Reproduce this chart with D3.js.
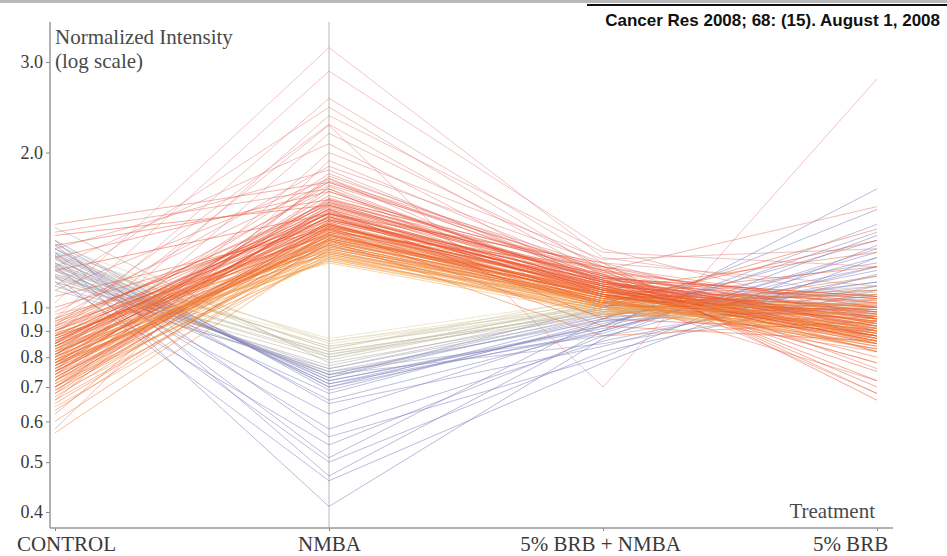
<!DOCTYPE html>
<html><head><meta charset="utf-8">
<script src="https://cdn.jsdelivr.net/npm/d3@7"></script>
<style>body{margin:0;background:#fff;}svg{display:block;}</style>
</head><body>
<svg id="chart" width="947" height="556"></svg>
<script>
const categories = ["CONTROL", "NMBA", "5% BRB + NMBA", "5% BRB"];
const yTicks = [0.4, 0.5, 0.6, 0.7, 0.8, 0.9, 1.0, 2.0, 3.0];
const header = "Cancer Res 2008; 68: (15). August 1, 2008";
const yTitle = ["Normalized Intensity", "(log scale)"];
const xTitle = "Treatment";

// each profile: [CONTROL, NMBA, 5% BRB + NMBA, 5% BRB]
const upHigh = [
  [1.02,3.20,1.25,1.05],[0.95,2.88,1.30,0.95],[0.88,2.55,1.22,1.10],[1.10,2.45,1.18,0.90],
  [0.80,2.36,1.28,1.20],[0.85,2.26,0.70,2.78],[0.92,2.27,1.15,0.85],[0.75,2.18,1.20,1.00],
  [1.20,2.08,1.10,0.78],[0.68,2.00,1.24,1.30],[1.30,1.85,1.12,0.95],[0.72,1.78,1.05,0.72],
  [0.98,1.75,1.18,1.57],[0.62,1.72,1.08,0.88],[1.40,1.70,1.00,0.82],[0.82,1.82,1.14,0.93],
  [0.74,1.76,1.20,0.87],[0.90,1.70,1.10,1.00],[0.66,1.80,1.17,0.82],[0.95,1.88,1.22,0.90],
  [0.78,1.68,1.11,0.96],[0.85,1.73,1.19,0.76],[1.08,1.78,1.13,0.88],[0.58,1.93,1.16,0.68]
];
const upCore = [
  [0.82,1.45,1.08,0.95],[0.76,1.38,1.05,0.90],[0.88,1.52,1.12,0.98],[0.72,1.33,1.02,0.88],
  [0.79,1.60,1.10,1.02],[0.85,1.41,1.06,0.86],[0.70,1.29,1.00,0.92],[0.91,1.48,1.14,1.05],
  [0.74,1.36,1.03,0.84],[0.83,1.55,1.09,0.97],[0.78,1.27,0.99,0.93],[0.87,1.43,1.11,0.89],
  [0.69,1.31,1.04,0.83],[0.81,1.50,1.07,1.00],[0.75,1.39,1.02,0.95],[0.93,1.58,1.15,0.91],
  [0.77,1.34,1.06,0.87],[0.84,1.46,1.01,0.99],[0.71,1.25,0.98,0.94],[0.80,1.62,1.13,1.04],
  [0.86,1.37,1.08,0.85],[0.73,1.44,1.05,0.90],[0.89,1.30,1.03,0.96],[0.78,1.53,1.12,0.88],
  [0.67,1.40,1.07,0.92],[0.82,1.28,1.00,1.01],[0.95,1.49,1.10,0.86],[0.76,1.35,1.04,0.98],
  [0.84,1.57,1.16,0.93],[0.72,1.42,1.09,0.80],[0.79,1.32,1.02,1.06],[0.90,1.45,1.06,0.89],
  [0.74,1.26,0.97,0.91],[0.81,1.65,1.18,1.00],[0.87,1.39,1.05,0.84],[0.70,1.47,1.11,0.95],
  [0.83,1.33,1.03,0.87],[0.77,1.54,1.08,1.03],[0.65,1.36,1.06,0.90],[0.88,1.29,1.01,0.97],
  [0.80,1.43,1.13,0.82],[0.75,1.51,1.07,0.94],[0.92,1.38,1.04,1.08],[0.78,1.24,0.99,0.88],
  [0.85,1.59,1.14,0.92],[0.73,1.41,1.10,0.86],[0.82,1.31,1.05,0.99],[0.68,1.46,1.08,0.91],
  [0.89,1.35,1.02,0.85],[0.76,1.63,1.17,1.02],[0.84,1.27,1.00,0.93],[0.71,1.44,1.09,0.89],
  [0.80,1.37,1.06,0.96],[0.94,1.52,1.12,0.87],[0.77,1.30,1.03,0.90],[0.63,1.40,1.05,0.94],
  [0.86,1.48,1.11,1.04],[0.79,1.34,1.04,0.83],[0.74,1.56,1.15,0.97],[0.83,1.23,0.98,0.92],
  [1.00,1.45,1.09,0.88],[0.70,1.38,1.07,1.00],[0.81,1.50,1.10,0.86],[0.88,1.32,1.01,0.95],
  [0.75,1.42,1.06,0.91],[0.60,1.35,1.04,0.98],[0.85,1.61,1.13,0.90],[0.78,1.28,1.02,0.87],
  [0.72,1.47,1.12,0.93],[0.90,1.39,1.05,1.01],[0.82,1.25,0.99,0.85],[0.77,1.53,1.08,0.96],
  [0.66,1.33,1.03,0.89],[0.87,1.44,1.10,0.92],[0.80,1.36,1.06,0.99],[1.05,1.42,1.07,0.94],
  [0.57,1.30,1.02,0.88],[0.84,1.55,1.14,1.05],[0.78,1.48,1.16,0.72],[0.83,1.40,1.20,0.68],
  [0.70,1.58,1.13,0.75],[0.88,1.52,1.22,0.66],[0.75,1.36,1.09,0.78],[0.92,1.60,1.18,0.70],
  [0.81,1.45,1.05,1.20],[0.73,1.38,1.08,1.28],[0.86,1.50,1.02,1.35],[0.79,1.32,0.96,1.15],
  [0.69,1.43,1.00,1.42],[0.84,1.42,0.92,0.86],[0.77,1.35,0.88,0.94],[0.90,1.55,0.95,0.90],
  [1.25,1.68,1.12,0.92],[1.38,1.58,1.08,0.85],[1.45,1.75,1.15,0.98],[1.18,1.52,1.06,0.88],
  [1.32,1.62,1.20,0.95],[0.64,1.27,1.01,0.83],[0.86,1.22,0.97,0.90],[0.72,1.24,1.00,0.97],
  [0.94,1.26,1.02,0.86],[0.80,1.23,0.99,1.02],[0.68,1.25,1.03,0.91],[0.97,1.28,1.04,0.94]
];
const flat = [
  [1.22,0.84,1.00,1.02],[1.18,0.82,0.98,1.05],[1.28,0.86,1.02,0.98],[1.15,0.80,0.99,1.08],
  [1.25,0.83,1.03,1.00],[1.20,0.81,0.97,1.04],[1.32,0.85,1.01,0.96],[1.12,0.79,1.00,1.10],
  [1.24,0.87,1.04,1.01],[1.16,0.82,0.98,0.99],[1.30,0.80,1.02,1.06],[1.21,0.84,0.99,1.03],
  [1.43,0.78,0.97,1.00],[1.26,0.83,1.05,0.97],[1.14,0.81,1.01,1.07],[1.19,0.86,1.00,1.02]
];
const down = [
  [1.20,0.74,0.95,1.10],[1.28,0.72,0.92,1.18],[1.15,0.76,0.98,1.05],[1.33,0.70,0.90,1.25],
  [1.22,0.73,0.96,1.12],[1.10,0.75,0.94,1.00],[1.26,0.71,0.89,1.30],[1.18,0.74,0.97,1.08],
  [1.35,0.69,0.93,1.20],[1.12,0.77,0.99,1.02],[1.24,0.72,0.91,1.15],[1.30,0.70,0.95,1.35],
  [1.16,0.75,0.88,1.06],[1.21,0.73,1.00,1.22],[1.08,0.76,0.96,0.98],[1.27,0.71,0.92,1.40],
  [1.19,0.68,0.94,1.12],[1.14,0.74,0.85,1.04],[1.25,0.66,0.90,1.28],[1.30,0.65,0.84,1.16],
  [1.18,0.62,0.92,1.45],[1.22,0.58,0.86,1.10],[1.32,0.56,0.80,1.32],[1.12,0.54,0.88,1.20],
  [1.28,0.51,0.95,1.55],[1.20,0.50,0.82,1.08],[1.35,0.47,0.90,1.70],[1.15,0.46,0.78,1.25],
  [1.26,0.41,0.87,1.38]
];

const svg = d3.select("#chart");
const W = 947, H = 556;
const x = d3.scalePoint().domain(categories).range([55, 877]);
const y = d3.scaleLog().domain([0.4, 3.0]).range([512, 62]);

// colour by NMBA value
const color = d3.scaleLog()
  .domain([0.4, 0.72, 0.79, 0.86, 1.2, 1.32, 1.5, 1.9, 3.2])
  .range(["#7474b8", "#8080c0", "#b8b4a0", "#dcd6b0", "#f4b860", "#f27a2c", "#ec5028", "#e27070", "#e48080"])
  .clamp(true);

// header
svg.append("rect").attr("x", 0).attr("y", 0).attr("width", W).attr("height", 3).attr("fill", "#b8b8b8");
svg.append("rect").attr("x", 587).attr("y", 4).attr("width", W - 587).attr("height", 2).attr("fill", "#111");
svg.append("text").attr("x", 940).attr("y", 26).attr("text-anchor", "end")
  .attr("font-family", "Liberation Sans, Arial, sans-serif").attr("font-weight", "bold")
  .attr("font-size", 17).attr("fill", "#111").text(header);

// NMBA marker line
svg.append("line").attr("x1", x("NMBA")).attr("x2", x("NMBA")).attr("y1", 22).attr("y2", 528)
  .attr("stroke", "#c4c4c4").attr("stroke-width", 1.2);

const line = d3.line().x((d, i) => x(categories[i])).y(d => y(d));
const gLines = svg.append("g").attr("fill", "none").attr("stroke-width", 1);
function drawSet(data, op) {
  gLines.selectAll(null).data(data).enter().append("path")
    .attr("d", line).attr("stroke", d => color(d[1])).attr("stroke-opacity", op);
}
drawSet(down, 0.5);
drawSet(flat, 0.55);
drawSet(upHigh, 0.45);
drawSet(upCore, 0.5);

// axes
const serif = "Liberation Serif, Times New Roman, serif";
const yAxis = svg.append("g").attr("transform", "translate(50,0)")
  .call(d3.axisLeft(y).tickValues(yTicks).tickFormat(d3.format(".1f")).tickSize(4).tickPadding(3));
yAxis.select(".domain").remove();
yAxis.selectAll(".tick line").attr("stroke", "#888");
yAxis.selectAll(".tick text").attr("font-family", serif).attr("font-size", 18).attr("fill", "#3a3a3a");
svg.append("line").attr("x1", 50).attr("x2", 50).attr("y1", 22).attr("y2", 528).attr("stroke", "#999").attr("stroke-width", 1.5);

const labelShift = [11, 0, -3, -27];
const xAxis = svg.append("g").attr("transform", "translate(0,528)")
  .call(d3.axisBottom(x).tickSize(3).tickPadding(6));
xAxis.select(".domain").remove();
xAxis.selectAll(".tick line").attr("stroke", "#888");
xAxis.selectAll(".tick text").attr("font-family", serif).attr("font-size", 21).attr("fill", "#3a3a3a")
  .attr("y", 23).attr("dy", 0).attr("dx", (d, i) => labelShift[i]);
svg.append("line").attr("x1", 50).attr("x2", 893).attr("y1", 528).attr("y2", 528).attr("stroke", "#999").attr("stroke-width", 1.5);

// titles
const yt = svg.append("text").attr("font-family", serif).attr("font-size", 21).attr("fill", "#4a4a4a");
yt.append("tspan").attr("x", 55).attr("y", 44).text(yTitle[0]);
yt.append("tspan").attr("x", 55).attr("y", 68).text(yTitle[1]);
svg.append("text").attr("x", 875).attr("y", 518).attr("text-anchor", "end")
  .attr("font-family", serif).attr("font-size", 21).attr("fill", "#4a4a4a").text(xTitle);
</script>
</body></html>
